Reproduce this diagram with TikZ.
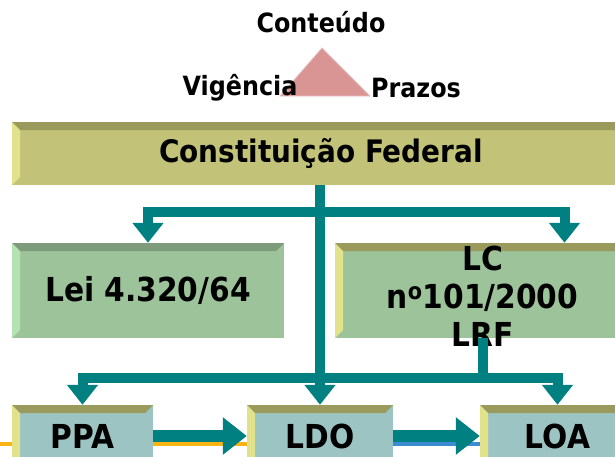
\documentclass[tikz,border=0pt]{standalone}
\usepackage{fontspec}
\setmainfont{DejaVu Sans Condensed}
\usetikzlibrary{arrows.meta,calc}

\definecolor{verdeazul}{RGB}{0,128,128}
\definecolor{rosa}{RGB}{217,149,148}
\definecolor{oliva}{RGB}{194,194,121}
\definecolor{olivaesc}{RGB}{154,154,92}
\definecolor{amarelo}{RGB}{226,226,138}
\definecolor{verde}{RGB}{157,195,155}
\definecolor{verdeesc}{RGB}{126,155,124}
\definecolor{verdeclaro}{RGB}{180,226,176}
\definecolor{cinzaazul}{RGB}{156,196,194}
\definecolor{laranja}{RGB}{250,180,20}
\definecolor{azul}{RGB}{60,140,210}

\tikzset{
chanfro/.style 2 args={path picture={
  \fill[#1] (path picture bounding box.north west) -- (path picture bounding box.north east)
     -- ([shift={(-8,8)}]path picture bounding box.north east) -- ([shift={(8,8)}]path picture bounding box.north west) -- cycle;
  \fill[#2] (path picture bounding box.north west) -- ([shift={(8,8)}]path picture bounding box.north west)
     -- ([shift={(8,-8)}]path picture bounding box.south west) -- (path picture bounding box.south west) -- cycle;
}}
}

\begin{document}
\begin{tikzpicture}[x=1pt,y=-1pt,
rotulo/.style ={font=\bfseries\fontsize{26.5}{30}\selectfont, inner sep=0pt},
caixa/.style ={rectangle, inner sep=0pt, align=center, font=\bfseries\fontsize{33}{38}\selectfont},
cf/.style ={caixa, fill=oliva, chanfro={olivaesc}{amarelo}, font=\bfseries\fontsize{31}{36}\selectfont},
lei/.style ={caixa, fill=verde, chanfro={verdeesc}{verdeclaro}},
lc/.style ={caixa, fill=verde, chanfro={olivaesc}{amarelo}},
plano/.style ={caixa, fill=cinzaazul, chanfro={olivaesc}{amarelo}},
seta/.style ={draw=verdeazul, line width=10pt, -{Triangle[width=30pt,length=20pt]}},
ligacao/.style ={draw=verdeazul, line width=10pt},
setagrossa/.style ={draw=verdeazul, line width=12pt, -{Triangle[width=36pt,length=24pt]}}
]
\clip (0,0) rectangle (615,456);

% triangulo do topo
\fill[rosa, draw=rosa!60!white, thick] (280,96) -- (322,48) -- (370,96) -- cycle;
\draw (321,22) node[rotulo] (cont) {Conteúdo};
\draw (240,88) node[rotulo] (vig) {Vigência};
\draw (416,88) node[rotulo] (praz) {Prazos};

% caixas
\draw (321,153.5) node[cf, minimum width=618pt, minimum height=63pt] (CF) {Constituição Federal};
\draw (148,290.5) node[lei, minimum width=272pt, minimum height=95pt] (lei) {Lei 4.320/64};
\draw (482.5,290.5) node[lc, minimum width=295pt, minimum height=95pt] (lc) {};
\draw (482.5,296) node[caixa] (lctxt) {LC\\n\textsuperscript{o}101/2000\\LRF};

% linhas de fundo
\draw[laranja, line width=4pt] (-10,444) -- (250,444);
\draw[azul, line width=4pt] (390,444) -- (482,444);

\draw (82.5,436) node[plano, minimum width=141pt, minimum height=62pt] (ppa) {PPA};
\draw (320,436) node[plano, minimum width=146pt, minimum height=62pt] (ldo) {LDO};
\draw (557.5,436) node[plano, minimum width=155pt, minimum height=62pt] (loa) {LOA};

% ligacoes
\coordinate (ramo) at (320,212);
\coordinate (juncao) at (482.5,378);
\draw[seta] (CF.south -| ldo.north) -- (ldo.north);
\draw[seta] (ramo) -| (lei.north);
\draw[seta] (ramo) -| ([xshift=82pt]lc.north);
\draw[ligacao] (lc.south) -- (juncao);
\draw[seta] (juncao) -| (ppa.north);
\draw[seta] (juncao) -| (loa.north);
\draw[setagrossa] (ppa.east) -- (ldo.west);
\draw[setagrossa] (ldo.east) -- (loa.west);

\end{tikzpicture}
\end{document}
